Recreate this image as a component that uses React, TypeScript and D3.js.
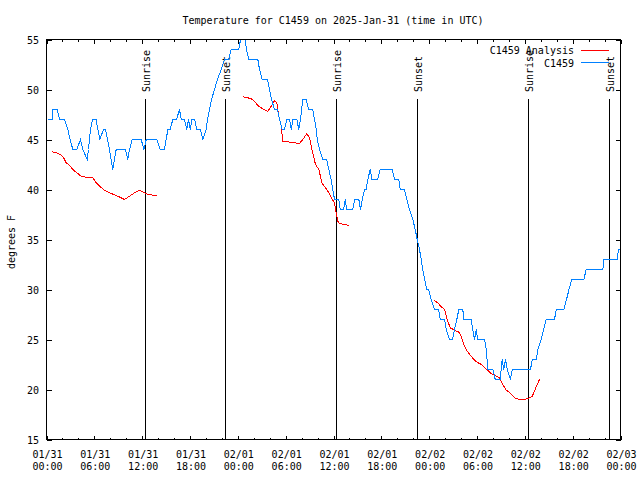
import React from "react";
import * as d3 from "d3";

const W = 640;
const H = 480;
const START = Date.UTC(2025, 0, 31, 0, 0);
const END = Date.UTC(2025, 1, 3, 0, 0);

const title = "Temperature for C1459 on 2025-Jan-31 (time in UTC)";
const yLabel = "degrees F";
const yTicks = [15, 20, 25, 30, 35, 40, 45, 50, 55];

// hours since 01/31 00:00 UTC
const obsHours = [
  0.16, 0.72, 0.79, 1.34, 1.63, 2.26, 2.67, 2.97, 3.3, 3.8, 4.27, 4.55, 5.11, 5.27, 5.52, 5.77, 6.23, 6.44,
  6.69, 7.15, 7.4, 7.65, 7.9, 8.32, 8.53, 8.74, 9.91, 10.2, 10.41, 10.75, 11.88, 12.21, 12.51, 13.84, 14.26,
  14.8, 15.22, 15.52, 15.84, 16.31, 16.68, 16.9, 17.31, 17.6, 17.81, 18.03, 18.23, 18.6, 18.85, 19.32, 19.61,
  20.03, 20.2, 20.45, 20.7, 21.07, 21.45, 21.91, 22.33, 22.83, 23.17, 24.12, 24.34, 24.59, 24.84, 25.09,
  25.38, 26.51, 26.72, 27.06, 27.72, 27.97, 28.22, 28.6, 28.98, 29.23, 29.57, 29.85, 30.14, 30.48, 30.7,
  30.9, 31.4, 31.65, 31.86, 32.15, 32.58, 32.87, 33.4, 33.62, 33.83, 33.96, 34.25, 34.66, 35.16, 35.41,
  35.71, 35.91, 36.13, 36.67, 36.84, 37.26, 37.47, 37.67, 38.42, 38.64, 39.18, 39.39, 39.6, 39.89, 40.1,
  40.3, 40.61, 40.81, 41.52, 41.86, 43.37, 43.65, 44.19, 44.37, 44.91, 45.2, 45.53, 45.95, 46.25, 46.5,
  46.79, 47.0, 47.2, 47.45, 47.7, 47.92, 48.26, 48.67, 49.17, 49.39, 49.93, 50.14, 50.55, 50.77, 50.93,
  51.18, 51.47, 51.72, 52.22, 52.35, 53.27, 53.47, 53.69, 53.9, 54.1, 54.94, 55.16, 55.36, 55.99, 56.29,
  56.91, 57.16, 57.36, 57.58, 57.79, 58.2, 58.42, 60.71, 60.93, 61.43, 61.65, 62.05, 62.34, 62.68, 63.72,
  63.94, 64.89, 65.23, 65.54, 65.89, 67.4, 67.7, 69.78, 69.93, 71.57, 71.75, 72.0,
];
const obsTemps = [
  47, 47, 48, 48, 47, 47, 46, 45, 44, 44, 45, 44, 43, 44, 46, 47, 47, 46,
  45, 46, 46, 45, 44, 42, 43, 44, 44, 43, 44, 45, 45, 44, 45, 45, 44,
  44, 46, 46, 47, 47, 48, 47, 47, 46, 47, 46, 47, 47, 46, 46, 45,
  46, 47, 48, 49, 50, 51, 52, 53, 53, 54, 54, 55, 56, 55.5, 54,
  53, 53, 52, 51, 51, 50, 49, 48, 48, 47, 46, 46, 47, 47, 46,
  47, 47, 46, 47, 49, 49, 48, 48, 47, 46, 45, 44, 43, 43, 42,
  41, 40, 39, 39, 38, 38, 39, 38, 38, 39, 39, 38, 39, 40, 40,
  41, 42, 41, 41, 42, 42, 41, 41, 40, 40, 39, 38, 37, 36, 35,
  34, 33, 32, 31, 30, 30, 29, 28, 28, 27, 27, 26, 25, 25, 25,
  26, 27, 28, 28, 27, 27, 26, 25, 26, 25, 25, 24, 22, 22, 21,
  21, 23, 22, 23, 22, 21, 22, 22, 23, 23, 24, 25, 26, 27, 27,
  28, 28, 29, 30, 31, 31, 32, 32, 33, 33, 34, 34,
];

// analysis segments
const anaHours1 = [0.66, 1.22, 1.84, 2.13, 2.47, 2.89, 3.3, 3.8, 4.35, 4.98, 5.81, 6.23, 6.65, 7.28, 8.12, 8.94, 9.78, 10.41, 11.04, 11.67, 12.29, 12.71, 13.84];
const anaTemps1 = [43.77, 43.67, 43.43, 43.2, 42.67, 42.43, 42.0, 41.67, 41.33, 41.23, 41.17, 40.67, 40.33, 39.93, 39.6, 39.33, 39.0, 39.33, 39.67, 39.93, 39.67, 39.5, 39.4];
const anaHours2 = [24.62, 25.46, 25.88, 26.51, 27.13, 27.76, 28.19, 28.6, 28.89, 29.14, 29.44, 29.64, 30.27, 31.11, 31.74, 32.15, 32.65, 32.99, 33.2, 33.49, 33.74, 34.16, 34.58, 35.0, 35.41, 35.84, 36.13, 36.34, 36.54, 36.75, 37.38, 37.92];
const anaTemps2 = [49.27, 49.13, 49.0, 48.4, 48.07, 47.8, 48.33, 48.87, 48.67, 47.33, 46.33, 44.83, 44.77, 44.67, 44.6, 45.0, 45.57, 45.17, 44.33, 43.33, 42.5, 42.0, 40.6, 40.17, 39.67, 39.0, 38.67, 37.67, 36.83, 36.6, 36.5, 36.4];
const anaHours3 = [48.67, 49.08, 49.51, 49.93, 50.14, 50.34, 50.64, 51.18, 51.72, 52.02, 52.43, 52.77, 53.27, 53.81, 54.53, 55.23, 55.78, 56.41, 56.83, 57.24, 57.67, 58.08, 58.71, 59.33, 59.96, 60.59, 60.93, 61.21, 61.55, 61.84];
const anaTemps3 = [28.9, 28.67, 28.27, 28.0, 27.33, 26.83, 26.17, 25.93, 25.73, 25.33, 24.33, 23.83, 23.33, 22.83, 22.5, 22.0, 21.6, 21.33, 21.17, 20.5, 19.93, 19.73, 19.17, 19.0, 19.0, 19.17, 19.33, 19.83, 20.5, 21.0];

const sunHours = [12.33, 22.37, 36.29, 46.45, 60.38, 70.54];
const sunLabels = ["Sunrise", "Sunset", "Sunrise", "Sunset", "Sunrise", "Sunset"];

const seriesNames = ["C1459 Analysis", "C1459"];
const seriesColors = ["#ff0000", "#0080ff"];

const FONT = "'DejaVu Sans Mono', 'Liberation Mono', monospace";

const toDate = (h: number) => new Date(START + h * 3600 * 1000);

export default function App() {
  const left = 46.5, right = 620.5, top = 39.5, bottom = 439.5;
  const x = d3.scaleUtc().domain([new Date(START), new Date(END)]).range([left, right]);
  const y = d3.scaleLinear().domain([15, 55]).range([bottom, top]);

  const line = d3
    .line<[number, number]>()
    .x((d) => x(toDate(d[0])))
    .y((d) => y(d[1]));

  const zip = (a: number[], b: number[]) => a.map((v, i) => [v, b[i]] as [number, number]);
  const obs = zip(obsHours, obsTemps);
  const anaSegs = [zip(anaHours1, anaTemps1), zip(anaHours2, anaTemps2), zip(anaHours3, anaTemps3)];

  const majorTicks = d3.utcHour.every(6)!.range(new Date(START), new Date(END + 1));
  const minorTicks = d3.utcHour.every(2)!.range(new Date(START), new Date(END + 1));
  const fmtDate = d3.utcFormat("%m/%d");
  const fmtTime = d3.utcFormat("%H:%M");

  return (
    <svg width={W} height={H} style={{ position: "absolute", left: 0, top: 0, background: "#fff" }} fontFamily={FONT} fontSize={10}>
      <rect x={0} y={0} width={W} height={H} fill="#fff" />
      <text x={333} y={24} textAnchor="middle">{title}</text>
      <clipPath id="plotclip">
        <rect x={left} y={top} width={right - left} height={bottom - top} />
      </clipPath>

      {/* ticks */}
      <g stroke="#000" strokeWidth={1} shapeRendering="crispEdges">
        {minorTicks.map((t, i) => {
          const xx = Math.round(x(t)) + 0.5;
          return (
            <g key={"mi" + i}>
              <line x1={xx} x2={xx} y1={bottom} y2={bottom - 2} />
              <line x1={xx} x2={xx} y1={top} y2={top + 2} />
            </g>
          );
        })}
        {majorTicks.map((t, i) => {
          const xx = Math.round(x(t)) + 0.5;
          return (
            <g key={"ma" + i}>
              <line x1={xx} x2={xx} y1={bottom} y2={bottom - 4} />
              <line x1={xx} x2={xx} y1={top} y2={top + 4} />
            </g>
          );
        })}
        {yTicks.map((v, i) => {
          const yy = Math.round(y(v)) + 0.5;
          return (
            <g key={"yt" + i}>
              <line x1={left} x2={left + 5} y1={yy} y2={yy} />
              <line x1={right} x2={right - 5} y1={yy} y2={yy} />
            </g>
          );
        })}
      </g>

      {/* y tick labels */}
      {yTicks.map((v, i) => (
        <text key={"yl" + i} x={39} y={y(v) + 4} textAnchor="end">{v}</text>
      ))}
      {/* x tick labels */}
      {majorTicks.map((t, i) => (
        <g key={"xl" + i}>
          <text x={x(t) + 1} y={458} textAnchor="middle">{fmtDate(t)}</text>
          <text x={x(t) + 1} y={470} textAnchor="middle">{fmtTime(t)}</text>
        </g>
      ))}
      <text transform={`translate(15,242) rotate(-90)`} textAnchor="middle">{yLabel}</text>

      {/* sun lines */}
      {sunHours.map((h, i) => {
        const xx = Math.round(x(toDate(h))) + 0.5;
        return (
          <g key={"sun" + i}>
            <line x1={xx} x2={xx} y1={99} y2={bottom} stroke="#000" strokeWidth={1} shapeRendering="crispEdges" />
            <text transform={`translate(${xx + 4.5},92) rotate(-90)`} textAnchor="start">{sunLabels[i]}</text>
          </g>
        );
      })}

      {/* data */}
      <g clipPath="url(#plotclip)" fill="none" strokeWidth={1} shapeRendering="crispEdges">
        {anaSegs.map((s, i) => (
          <path key={"ana" + i} d={line(s) || ""} stroke={seriesColors[0]} />
        ))}
        <path d={line(obs) || ""} stroke={seriesColors[1]} />
      </g>

      {/* legend */}
      {seriesNames.map((n, i) => (
        <g key={"lg" + i}>
          <text x={574} y={54 + i * 12.5} textAnchor="end">{n}</text>
          <line x1={581} x2={609} y1={50.5 + i * 12} y2={50.5 + i * 12} stroke={seriesColors[i]} strokeWidth={1} shapeRendering="crispEdges" />
        </g>
      ))}

      {/* frame */}
      <rect x={left} y={top} width={right - left} height={bottom - top} fill="none" stroke="#000" strokeWidth={1} shapeRendering="crispEdges" />
    </svg>
  );
}
